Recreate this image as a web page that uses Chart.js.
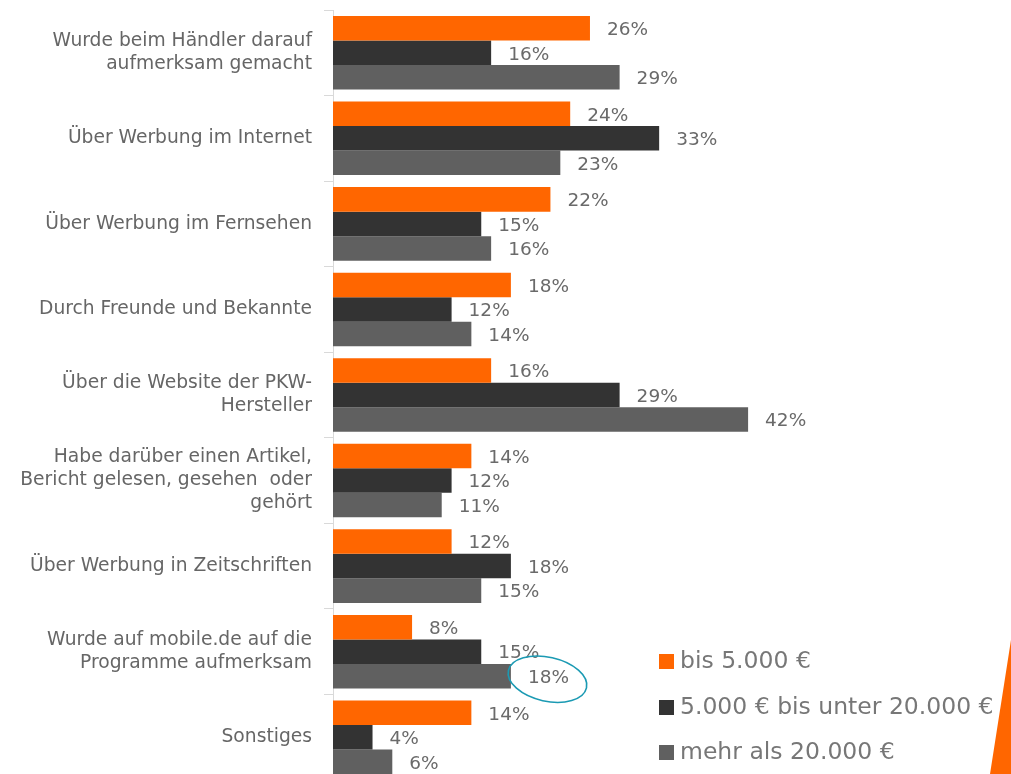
<!DOCTYPE html>
<html>
<head>
<meta charset="utf-8">
<script src="https://cdn.jsdelivr.net/npm/chart.js@4"></script>
<style>
    html, body { margin: 0; padding: 0; background: #fff; overflow: hidden; }
    #wrap { position: relative; width: 1011px; height: 774px; overflow: hidden; }
    #wrap canvas { position: absolute; left: 0; top: 0; }
    #legend { position: absolute; left: 659px; top: 641px; font-family: "DejaVu Sans", sans-serif; font-size: 23.5px; color: #777; }
    #legend div { height: 45.5px; line-height: 38px; white-space: nowrap; }
    #legend span.box { display: inline-block; width: 15px; height: 15px; margin-right: 6px; vertical-align: -1px; }
    #wedge { position: absolute; left: 985px; top: 640px; width: 26px; height: 134px; background: #ff6600;
        clip-path: polygon(100% 0, 100% 100%, 5px 100%); }
</style>
</head>
<body>
<div id="wrap">
    <canvas id="chart" width="1011" height="782"></canvas>
    <div id="legend"></div>
    <div id="wedge"></div>
</div>
<script>
// category labels (multi-line as in the original)
const categories = [
    ['Wurde beim Händler darauf', 'aufmerksam gemacht'],
    'Über Werbung im Internet',
    'Über Werbung im Fernsehen',
    'Durch Freunde und Bekannte',
    ['Über die Website der PKW-', 'Hersteller'],
    ['Habe darüber einen Artikel,', 'Bericht gelesen, gesehen  oder', 'gehört'],
    'Über Werbung in Zeitschriften',
    ['Wurde auf mobile.de auf die', 'Programme aufmerksam'],
    'Sonstiges'
];

const seriesNames = ['bis 5.000 €', '5.000 € bis unter 20.000 €', 'mehr als 20.000 €'];
const seriesColors = ['#ff6600', '#333333', '#606060'];

const bis5000 = [26, 24, 22, 18, 16, 14, 12, 8, 14];
const bis20000 = [16, 33, 15, 12, 29, 12, 18, 15, 4];
const ueber20000 = [29, 23, 16, 14, 42, 11, 15, 18, 6];

// the value that got circled in the original slide
const circled = { series: 2, index: 7 };

const labelFont = '18.5px "DejaVu Sans", sans-serif';

// Draws the percentage next to each bar, plus the hand-drawn ellipse
const valueLabels = {
    id: 'valueLabels',
    afterDatasetsDraw(chart) {
        const ctx = chart.ctx;
        ctx.save();
        ctx.font = labelFont;
        ctx.fillStyle = '#6a6a6a';
        ctx.textBaseline = 'middle';
        ctx.textAlign = 'left';
        chart.data.datasets.forEach((ds, di) => {
            const meta = chart.getDatasetMeta(di);
            meta.data.forEach((bar, i) => {
                const txt = ds.data[i] + '%';
                const x = bar.x + 17;
                const y = bar.y + 2;
                ctx.fillText(txt, x, y);
                if (di === circled.series && i === circled.index) {
                    const w = ctx.measureText(txt).width;
                    ctx.save();
                    ctx.strokeStyle = '#1b9ab3';
                    ctx.lineWidth = 1.6;
                    ctx.beginPath();
                    ctx.ellipse(x + w / 2 - 1, y + 1, 40, 22, 0.22, 0, Math.PI * 2);
                    ctx.stroke();
                    ctx.restore();
                }
            });
        });
        ctx.restore();
    }
};

const datasets = [bis5000, bis20000, ueber20000].map((d, i) => ({
    label: seriesNames[i],
    data: d,
    backgroundColor: seriesColors[i],
    borderWidth: 0,
    categoryPercentage: 0.86,
    barPercentage: 1.0
}));

new Chart(document.getElementById('chart'), {
    type: 'bar',
    data: { labels: categories, datasets: datasets },
    options: {
        indexAxis: 'y',
        responsive: false,
        animation: false,
        layout: { padding: { top: 10, bottom: 2, right: 85 } },
        plugins: {
            legend: { display: false },
            tooltip: { enabled: false }
        },
        scales: {
            x: {
                min: 0,
                max: 60,
                display: false
            },
            y: {
                afterFit(scale) {
                    scale.width = 333;
                    // no extra room for the first/last label, the bands fill the height
                    scale.paddingTop = 0;
                    scale.paddingBottom = 0;
                },
                border: { color: '#d9d9d9', width: 1 },
                grid: {
                    drawOnChartArea: false,
                    offset: true,
                    tickLength: 9,
                    color: '#d9d9d9'
                },
                ticks: {
                    color: '#666',
                    padding: 12,
                    font: { family: '"DejaVu Sans", sans-serif', size: 18.7, lineHeight: 1.23 }
                }
            }
        }
    },
    plugins: [valueLabels]
});

// legend built from the series arrays
const legend = document.getElementById('legend');
seriesNames.forEach((name, i) => {
    const row = document.createElement('div');
    const box = document.createElement('span');
    box.className = 'box';
    box.style.background = seriesColors[i];
    row.appendChild(box);
    row.appendChild(document.createTextNode(name));
    legend.appendChild(row);
});
</script>
</body>
</html>
